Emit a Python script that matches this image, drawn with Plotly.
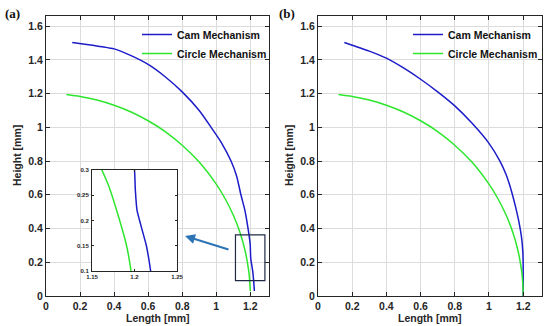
import plotly.graph_objects as go

# ---------------- data ----------------
circle_a_x = [0.12, 0.2, 0.3, 0.4, 0.5, 0.6, 0.7, 0.8, 0.9, 1.0, 1.05, 1.1, 1.14, 1.17, 1.19, 1.195, 1.199, 1.2]
circle_a_y = [1.194, 1.183, 1.162, 1.131, 1.091, 1.039, 0.975, 0.894, 0.794, 0.663, 0.581, 0.480, 0.375, 0.267, 0.155, 0.11, 0.05, 0.03]

cam_a_x = [0.154, 0.25, 0.33, 0.40, 0.5, 0.6, 0.7, 0.8, 0.9, 0.97, 1.03, 1.087, 1.12, 1.145, 1.169,
           1.187, 1.197, 1.2, 1.201, 1.203, 1.206, 1.21, 1.214, 1.219, 1.222, 1.224]
cam_a_y = [1.503, 1.49, 1.478, 1.465, 1.425, 1.373, 1.30, 1.21, 1.10, 1.0, 0.91, 0.8, 0.71, 0.6, 0.505,
           0.4, 0.33, 0.30, 0.26, 0.22, 0.20, 0.175, 0.15, 0.10, 0.06, 0.03]

circle_b_x = [0.12, 0.2, 0.3, 0.4, 0.5, 0.6, 0.7, 0.8, 0.9, 1.0, 1.05, 1.1, 1.14, 1.17, 1.19, 1.195, 1.199, 1.2]
circle_b_y = [1.194, 1.183, 1.162, 1.131, 1.091, 1.039, 0.975, 0.894, 0.794, 0.663, 0.581, 0.480, 0.375, 0.267, 0.155, 0.11, 0.05, 0.0]

cam_b_x = [0.154, 0.2, 0.3, 0.4, 0.5, 0.6, 0.7, 0.8, 0.9, 1.0, 1.064, 1.1, 1.132, 1.155, 1.175, 1.19, 1.198, 1.2, 1.2]
cam_b_y = [1.503, 1.487, 1.452, 1.41, 1.352, 1.285, 1.21, 1.127, 1.025, 0.905, 0.8, 0.72, 0.62, 0.53, 0.44, 0.35, 0.26, 0.18, 0.0]

main_xticks = [0, 0.2, 0.4, 0.6, 0.8, 1.0, 1.2]
main_xtext = ["0", "0.2", "0.4", "0.6", "0.8", "1", "1.2"]
main_yticks = [0, 0.2, 0.4, 0.6, 0.8, 1.0, 1.2, 1.4, 1.6]
main_ytext = ["0", "0.2", "0.4", "0.6", "0.8", "1", "1.2", "1.4", "1.6"]
inset_xticks = [1.15, 1.2, 1.25]
inset_xtext = ["1.15", "1.2", "1.25"]
inset_yticks = [0.1, 0.15, 0.2, 0.25, 0.3]
inset_ytext = ["0.1", "0.15", "0.2", "0.25", "0.3"]
inset_xrange = [1.15, 1.25]
inset_yrange = [0.1, 0.3]

BLUE = "#1c1cc8"
GREEN = "#2ee62e"
AX = "#262626"
GRID = "#dcdcdc"
FONT = "Liberation Sans"

fig = go.Figure()

def line(color):
    return dict(color=color, width=1.5, shape="spline", smoothing=0.6)

# panel (a)
fig.add_trace(go.Scatter(x=cam_a_x, y=cam_a_y, mode="lines", name="Cam Mechanism",
                         line=line(BLUE), xaxis="x", yaxis="y", legend="legend"))
fig.add_trace(go.Scatter(x=circle_a_x, y=circle_a_y, mode="lines", name="Circle Mechanism",
                         line=line(GREEN), xaxis="x", yaxis="y", legend="legend"))
# panel (b)
fig.add_trace(go.Scatter(x=cam_b_x, y=cam_b_y, mode="lines", name="Cam Mechanism",
                         line=line(BLUE), xaxis="x2", yaxis="y2", legend="legend2"))
fig.add_trace(go.Scatter(x=circle_b_x, y=circle_b_y, mode="lines", name="Circle Mechanism",
                         line=line(GREEN), xaxis="x2", yaxis="y2", legend="legend2"))
# inset
fig.add_trace(go.Scatter(x=cam_a_x, y=cam_a_y, mode="lines", showlegend=False,
                         line=line(BLUE), xaxis="x3", yaxis="y3"))
fig.add_trace(go.Scatter(x=circle_a_x, y=circle_a_y, mode="lines", showlegend=False,
                         line=line(GREEN), xaxis="x3", yaxis="y3"))

W, H = 550, 326
def px(a, b):
    return [a / W, b / W]
def py(top, bottom):
    return [1 - bottom / H, 1 - top / H]

tickfont = dict(family=FONT, size=10.5, color=AX, weight="bold")
main_ax = dict(showline=True, linecolor=AX, linewidth=1, mirror="ticks", ticks="inside",
               ticklen=4, tickcolor=AX, showgrid=True, gridcolor=GRID, gridwidth=1,
               zeroline=False, tickfont=tickfont, automargin=False)
inset_ax = dict(showline=True, linecolor=AX, linewidth=1, mirror="ticks", ticks="inside", ticklen=2,
                tickcolor=AX, showgrid=False, zeroline=False, automargin=False,
                tickfont=dict(family=FONT, size=6, color=AX, weight="bold"))
legfont = dict(family=FONT, size=10.5, color="#111111", weight="bold")

fig.update_layout(
    width=W, height=H, margin=dict(l=0, r=0, t=0, b=0, autoexpand=False),
    paper_bgcolor="white", plot_bgcolor="white",
    xaxis=dict(main_ax, domain=px(46, 269), range=[0, 1.31], tickvals=main_xticks, ticktext=main_xtext, anchor="y"),
    yaxis=dict(main_ax, domain=py(16, 296), range=[0, 1.66], tickvals=main_yticks, ticktext=main_ytext, anchor="x"),
    xaxis2=dict(main_ax, domain=px(318, 542), range=[0, 1.31], tickvals=main_xticks, ticktext=main_xtext, anchor="y2"),
    yaxis2=dict(main_ax, domain=py(16, 296), range=[0, 1.66], tickvals=main_yticks, ticktext=main_ytext, anchor="x2"),
    xaxis3=dict(inset_ax, domain=px(92, 177), range=inset_xrange, tickvals=inset_xticks, ticktext=inset_xtext, anchor="y3"),
    yaxis3=dict(inset_ax, domain=py(170, 271), range=inset_yrange, tickvals=inset_yticks, ticktext=inset_ytext,
                anchor="x3", ticklabelstandoff=1),
    legend=dict(x=137 / W, y=1 - 20 / H, xanchor="left", yanchor="top", bgcolor="rgba(255,255,255,0)",
                font=legfont, borderwidth=0),
    legend2=dict(x=408 / W, y=1 - 20 / H, xanchor="left", yanchor="top", bgcolor="rgba(255,255,255,0)",
                 font=legfont, borderwidth=0),
    showlegend=True,
)

# white background of inset (drawn in the inset subplot, above panel (a) gridlines)
fig.add_shape(type="rect", xref="x3", yref="y3", x0=inset_xrange[0], x1=inset_xrange[1],
              y0=inset_yrange[0], y1=inset_yrange[1],
              fillcolor="white", line=dict(width=0), layer="below")
# zoom rectangle in panel (a)
fig.add_shape(type="rect", xref="x", yref="y", x0=1.113, x1=1.286, y0=0.091, y1=0.362,
              line=dict(color="#1f2a44", width=1.2), fillcolor="rgba(0,0,0,0)")
# arrow
fig.add_annotation(x=185 / W, y=1 - 236 / H, xref="paper", yref="paper", ax=45, ay=14,
                   showarrow=True, arrowhead=2, arrowsize=1, arrowwidth=2, arrowcolor="#2e74b5", text="")
# axis titles
titlefont = dict(family=FONT, size=10.5, color=AX, weight="bold")
for cx in [157.5, 430]:
    fig.add_annotation(x=cx / W, y=1 - 318 / H, xref="paper", yref="paper", text="Length [mm]",
                       showarrow=False, font=titlefont, xanchor="center", yanchor="middle")
for cx in [17, 289]:
    fig.add_annotation(x=cx / W, y=1 - 156 / H, xref="paper", yref="paper", text="Height [mm]",
                       showarrow=False, font=titlefont, textangle=-90, xanchor="center", yanchor="middle")
# panel labels
for lbl, xpx in [("(a)", 3), ("(b)", 277)]:
    fig.add_annotation(x=xpx / W, y=1 - 4 / H, xref="paper", yref="paper", xanchor="left", yanchor="top",
                       text=lbl, showarrow=False,
                       font=dict(family="Liberation Serif", size=13, color="#111111", weight="bold"))

fig.write_html("out.html", post_script="document.body.style.margin='0px';",
               config={"displayModeBar": False})
